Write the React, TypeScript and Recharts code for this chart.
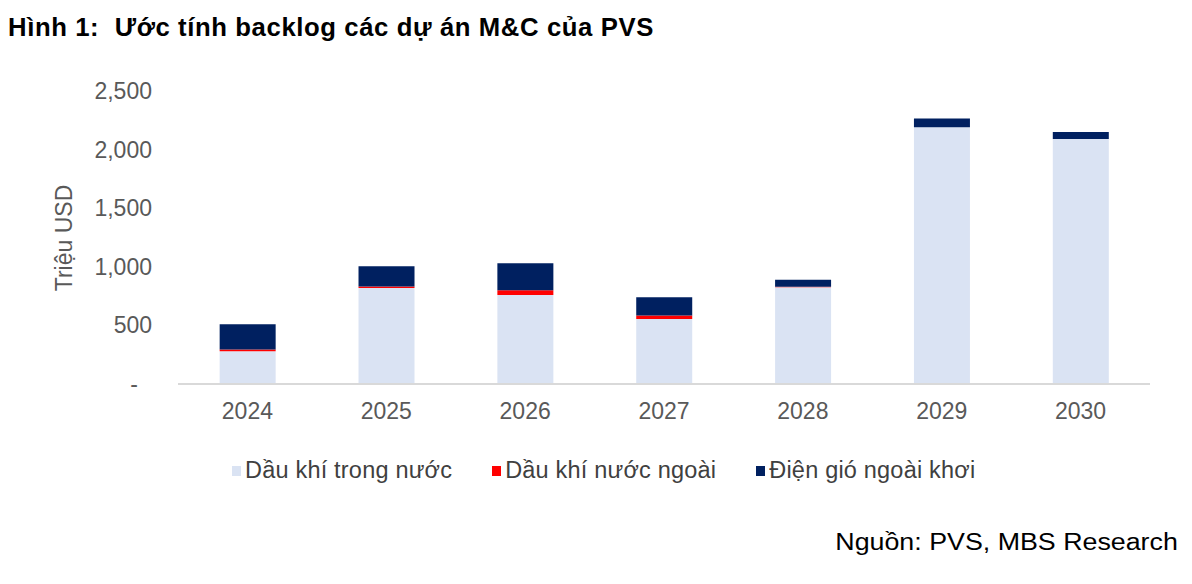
import React from 'react';
import { BarChart, Bar, XAxis, YAxis, Legend } from 'recharts';

// Backlog estimates (million USD) by year and segment
const years = ['2024', '2025', '2026', '2027', '2028', '2029', '2030'];
const domesticOilGas = [280, 820, 760, 555, 825, 2190, 2090];
const foreignOilGas = [15, 12, 40, 30, 5, 0, 0];
const offshoreWind = [215, 173, 230, 155, 60, 75, 60];
const yTicks = [0, 500, 1000, 1500, 2000, 2500];

const seriesNames = ['Dầu khí trong nước', 'Dầu khí nước ngoài', 'Điện gió ngoài khơi'];
const seriesColors = ['#DAE3F3', '#FF0000', '#002060'];

const data = years.map((year, i) => ({
  year,
  domestic: domesticOilGas[i],
  foreign: foreignOilGas[i],
  wind: offshoreWind[i],
}));

const FONT = 'Arial, "Liberation Sans", Helvetica, sans-serif';

const YTick = (props: any) => {
  const { x, y, payload } = props;
  const v = payload.value as number;
  const label = v === 0 ? '-' : v.toLocaleString('en-US');
  return (
    <text
      x={v === 0 ? x - 14 : x}
      y={y}
      dy="0.35em"
      textAnchor="end"
      fill="#595959"
      fontSize={23}
      fontFamily={FONT}
    >
      {label}
    </text>
  );
};

// Legend items kept in series order
const LegendContent = (props: any) => {
  const items = [...(props.payload || [])].sort(
    (a: any, b: any) => seriesNames.indexOf(a.value) - seriesNames.indexOf(b.value)
  );
  return (
    <div style={{ display: 'flex', justifyContent: 'flex-start', fontFamily: FONT }}>
      {items.map((entry: any, i: number) => (
        <div
          key={i}
          style={{ display: 'flex', alignItems: 'center', marginRight: i < items.length - 1 ? 40 : 0 }}
        >
          <span
            style={{ width: 9, height: 10, background: entry.color, display: 'inline-block', marginRight: 4 }}
          />
          <span style={{ fontSize: 23.5, color: '#404040', letterSpacing: 0.2 }}>{entry.value}</span>
        </div>
      ))}
    </div>
  );
};

export default function App() {
  return (
    <div style={{ position: 'absolute', left: 0, top: 0, width: 1192, height: 584, background: '#fff', fontFamily: FONT }}>
      <div
        style={{
          position: 'absolute',
          left: 8,
          top: 13,
          fontSize: 25.7,
          fontWeight: 'bold',
          color: '#000',
          whiteSpace: 'nowrap',
          letterSpacing: 0.6,
        }}
      >
        Hình 1:&nbsp;&nbsp;Ước tính backlog các dự án M&amp;C của PVS
      </div>
      <div
        style={{
          position: 'absolute',
          left: 64,
          top: 238,
          transform: 'translate(-50%, -50%) rotate(-90deg)',
          fontSize: 23,
          color: '#595959',
          whiteSpace: 'nowrap',
        }}
      >
        Triệu USD
      </div>
      <div
        style={{
          position: 'absolute',
          right: 14,
          top: 528.5,
          fontSize: 23.3,
          color: '#000',
          whiteSpace: 'nowrap',
          transform: 'scaleX(1.15)',
          transformOrigin: 'right center',
        }}
      >
        Nguồn: PVS, MBS Research
      </div>
      <BarChart
        width={1192}
        height={584}
        data={data}
        margin={{ top: 91, right: 42, bottom: 133, left: 78 }}
        barCategoryGap="30%"
        style={{ position: 'absolute', left: 0, top: 0 }}
      >
        <XAxis
          dataKey="year"
          axisLine={{ stroke: '#D9D9D9', strokeWidth: 2 }}
          tickLine={false}
          tickSize={12}
          tickMargin={7}
          height={40}
          tick={{ fill: '#595959', fontSize: 23, fontFamily: FONT }}
        />
        <YAxis
          width={100}
          domain={[0, 2500]}
          ticks={yTicks}
          axisLine={false}
          tickLine={false}
          tickSize={20}
          tickMargin={6}
          tick={<YTick />}
          interval={0}
        />
        <Legend
          verticalAlign="bottom"
          align="left"
          content={<LegendContent />}
          wrapperStyle={{ left: 232, top: 457, width: 800 }}
        />
        <Bar dataKey="domestic" name={seriesNames[0]} stackId="a" fill={seriesColors[0]} isAnimationActive={false} />
        <Bar dataKey="foreign" name={seriesNames[1]} stackId="a" fill={seriesColors[1]} isAnimationActive={false} />
        <Bar dataKey="wind" name={seriesNames[2]} stackId="a" fill={seriesColors[2]} isAnimationActive={false} />
      </BarChart>
    </div>
  );
}
